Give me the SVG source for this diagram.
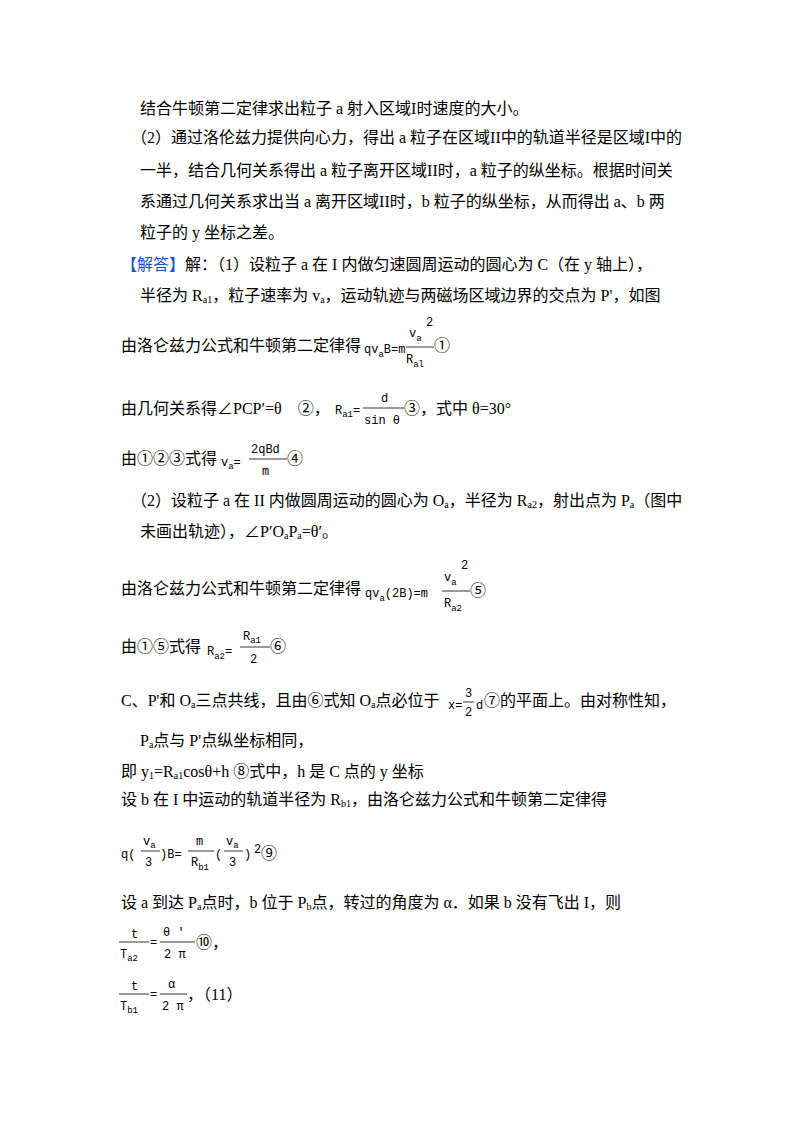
<svg xmlns="http://www.w3.org/2000/svg" width="800" height="1132" viewBox="0 0 800 1132">
<style>
.t{font-family:"Liberation Serif","Noto Sans CJK SC",serif;font-size:16px;fill:#000}
.f{font-family:"Liberation Mono","DejaVu Sans Mono",monospace;font-size:12px;fill:#000}
.s{font-family:"Liberation Mono",monospace;font-size:9px;fill:#000}
.h{font-family:"Liberation Serif","Noto Sans CJK SC",serif;font-size:16px;fill:#1a52c8}
line{stroke:#000;stroke-width:0.8}
</style>
<rect width="800" height="1132" fill="#fff"/>
<g id="text">
<text class="t" x="140" y="114">结合牛顿第二定律求出粒子 a 射入区域I时速度的大小。</text>
<text class="t" x="131" y="143">（2）通过洛伦兹力提供向心力，得出 a 粒子在区域II中的轨道半径是区域I中的</text>
<text class="t" x="140" y="176">一半，结合几何关系得出 a 粒子离开区域II时，a 粒子的纵坐标。根据时间关</text>
<text class="t" x="140" y="207">系通过几何关系求出当 a 离开区域II时，b 粒子的纵坐标，从而得出 a、b 两</text>
<text class="t" x="140" y="238">粒子的 y 坐标之差。</text>
<text class="h" x="121" y="270">【解答】</text>
<text class="t" x="185" y="270">解：（1）设粒子 a 在 I 内做匀速圆周运动的圆心为 C（在 y 轴上），</text>
<text class="t" x="140" y="301">半径为 R<tspan font-size="10" dy="2">a1</tspan><tspan dy="-2">，粒子速率为 v</tspan><tspan font-size="10" dy="2">a</tspan><tspan dy="-2">，运动轨迹与两磁场区域边界的交点为 P'，如图</tspan></text>

<text class="t" x="121" y="351">由洛仑兹力公式和牛顿第二定律得</text>
<text class="f" x="364" y="353">qv<tspan class="s" dy="4">a</tspan><tspan dy="-4">B=m</tspan></text>
<text class="f" x="409" y="337">v<tspan class="s" dy="4">a</tspan></text>
<text class="f" x="426" y="326">2</text>
<line x1="406" y1="347" x2="434" y2="347"/>
<text class="f" x="406" y="363">R<tspan class="s" dy="4">al</tspan></text>
<text class="t" x="434" y="351">①</text>

<text class="t" x="121" y="414">由几何关系得∠PCP′=θ　②，</text>
<text class="f" x="335" y="414">R<tspan class="s" dy="3">a1</tspan><tspan dy="-3">=</tspan></text>
<text class="f" x="381" y="402">d</text>
<line x1="363" y1="408" x2="404" y2="408"/>
<text class="f" x="364" y="424">sin θ</text>
<text class="t" x="404" y="414">③，式中 θ=30°</text>

<text class="t" x="121" y="464">由①②③式得</text>
<text class="f" x="221" y="466">v<tspan class="s" dy="3">a</tspan><tspan dy="-3">=</tspan></text>
<text class="f" x="251" y="453">2qBd</text>
<line x1="249" y1="459" x2="287" y2="459"/>
<text class="f" x="262" y="475">m</text>
<text class="t" x="287" y="464">④</text>

<text class="t" x="131" y="506">（2）设粒子 a 在 II 内做圆周运动的圆心为 O<tspan font-size="10" dy="2">a</tspan><tspan dy="-2">，半径为 R</tspan><tspan font-size="10" dy="2">a2</tspan><tspan dy="-2">，射出点为 P</tspan><tspan font-size="10" dy="2">a</tspan><tspan dy="-2">（图中</tspan></text>
<text class="t" x="140" y="537">未画出轨迹），∠P′O<tspan font-size="10" dy="2">a</tspan><tspan dy="-2">P</tspan><tspan font-size="10" dy="2">a</tspan><tspan dy="-2">=θ′。</tspan></text>

<text class="t" x="121" y="594">由洛仑兹力公式和牛顿第二定律得</text>
<text class="f" x="365" y="597">qv<tspan class="s" dy="4">a</tspan><tspan dy="-4">(2B)=m</tspan></text>
<text class="f" x="444" y="581">v<tspan class="s" dy="4">a</tspan></text>
<text class="f" x="461" y="569">2</text>
<line x1="442" y1="591" x2="470" y2="591"/>
<text class="f" x="444" y="607">R<tspan class="s" dy="4">a2</tspan></text>
<text class="t" x="470" y="596">⑤</text>

<text class="t" x="121" y="652">由①⑤式得</text>
<text class="f" x="207" y="655">R<tspan class="s" dy="4">a2</tspan><tspan dy="-4">=</tspan></text>
<text class="f" x="243" y="640">R<tspan class="s" dy="3">a1</tspan></text>
<line x1="240" y1="647" x2="270" y2="647"/>
<text class="f" x="250" y="663">2</text>
<text class="t" x="270" y="652">⑥</text>

<text class="t" x="121" y="706">C、P'和 O<tspan font-size="10" dy="2">a</tspan><tspan dy="-2">三点共线，且由⑥式知 O</tspan><tspan font-size="10" dy="2">a</tspan><tspan dy="-2">点必位于</tspan></text>
<text class="f" x="448" y="709">x=</text>
<text class="f" x="465" y="697">3</text>
<line x1="463" y1="702" x2="474" y2="702"/>
<text class="f" x="465" y="716">2</text>
<text class="f" x="476" y="709">d</text>
<text class="t" x="484" y="706">⑦的平面上。由对称性知，</text>

<text class="t" x="140" y="746">P<tspan font-size="10" dy="2">a</tspan><tspan dy="-2">点与 P'点纵坐标相同，</tspan></text>
<text class="t" x="121" y="777">即 y<tspan font-size="10" dy="2">1</tspan><tspan dy="-2">=R</tspan><tspan font-size="10" dy="2">a1</tspan><tspan dy="-2">cosθ+h ⑧式中，h 是 C 点的 y 坐标</tspan></text>
<text class="t" x="121" y="805">设 b 在 I 中运动的轨道半径为 R<tspan font-size="10" dy="2">b1</tspan><tspan dy="-2">，由洛仑兹力公式和牛顿第二定律得</tspan></text>

<text class="f" x="121" y="858">q(</text>
<text class="f" x="143" y="845">v<tspan class="s" dy="3">a</tspan></text>
<line x1="141" y1="851" x2="160" y2="851"/>
<text class="f" x="145" y="866">3</text>
<text class="f" x="160" y="858">)B=</text>
<text class="f" x="196" y="845">m</text>
<line x1="188" y1="851" x2="214" y2="851"/>
<text class="f" x="191" y="866">R<tspan class="s" dy="4">b1</tspan></text>
<text class="f" x="215" y="858">(</text>
<text class="f" x="226" y="845">v<tspan class="s" dy="3">a</tspan></text>
<line x1="224" y1="851" x2="243" y2="851"/>
<text class="f" x="229" y="866">3</text>
<text class="f" x="244" y="858">)</text>
<text class="f" x="254" y="853">2</text>
<text class="t" x="261" y="859">⑨</text>

<text class="t" x="121" y="908">设 a 到达 P<tspan font-size="10" dy="2">a</tspan><tspan dy="-2">点时，b 位于 P</tspan><tspan font-size="10" dy="2">b</tspan><tspan dy="-2">点，转过的角度为 α．如果 b 没有飞出 I，则</tspan></text>

<text class="f" x="131" y="938">t</text>
<line x1="119" y1="942" x2="149" y2="942"/>
<text class="f" x="120" y="958">T<tspan class="s" dy="3">a2</tspan></text>
<text class="f" x="150" y="946">=</text>
<text class="f" x="163" y="936">θ ′</text>
<line x1="160" y1="942" x2="195" y2="942"/>
<text class="f" x="164" y="958">2 π</text>
<text class="t" x="196" y="948">⑩，</text>

<text class="f" x="131" y="990">t</text>
<line x1="119" y1="994" x2="149" y2="994"/>
<text class="f" x="120" y="1010">T<tspan class="s" dy="3">b1</tspan></text>
<text class="f" x="150" y="998">=</text>
<text class="f" x="168" y="988">α</text>
<line x1="160" y1="994" x2="187" y2="994"/>
<text class="f" x="162" y="1010">2 π</text>
<text class="t" x="187" y="1000">，（11）</text>
</g>
</svg>
